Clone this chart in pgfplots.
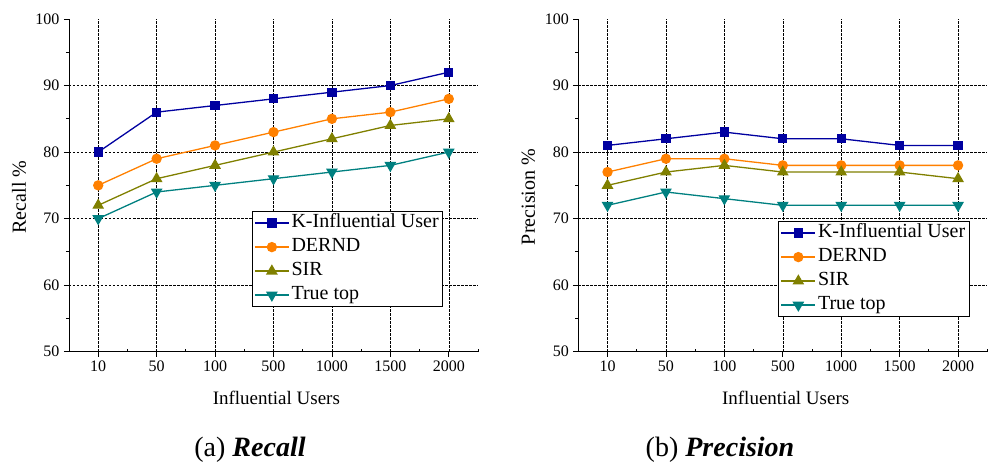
\documentclass[border=0pt]{standalone}
\usepackage{fontspec}
\setmainfont{Liberation Serif}
\usepackage{pgfplots}
\pgfplotsset{compat=1.18}

\definecolor{kblue}{RGB}{0,0,160}
\definecolor{dorange}{RGB}{255,128,0}
\definecolor{solive}{RGB}{128,128,0}
\definecolor{tteal}{RGB}{0,128,128}

\pgfplotsset{
  panel/.style={
    scale only axis, width=409pt, height=332.7pt,
    xmin=-0.5, xmax=6.5, ymin=50, ymax=100,
    axis x line*=bottom, axis y line*=left,
    axis line style={-, line width=0.8pt},
    xtick={0,...,6}, xticklabels={10,50,100,500,1000,1500,2000},
    minor xtick={-0.5,0.5,...,6.5},
    ytick={50,60,...,100}, minor ytick={55,65,...,95},
    xmajorgrids,
    grid style={dash pattern=on 2.5pt off 1.5pt, black, line width=0.5pt},
    extra y ticks={60,70,80,90}, extra y tick labels={},
    extra y tick style={grid=major, major tick length=0pt},
    tick align=outside, major tick length=5pt, minor tick length=3pt,
    tick style={black, line width=0.8pt},
    minor x tick style={yshift=3pt},
    ticklabel style={font=\fontsize{16}{16}\selectfont},
    yticklabel style={xshift=-1pt},
    xticklabel style={yshift=-1pt},
    /pgf/number format/assume math mode=true,
    xlabel={Influential Users},
    xlabel style={font=\fontsize{19}{19}\selectfont, at={(axis description cs:0.507,-0.139)}, anchor=center},
    ylabel style={font=\fontsize{20}{20}\selectfont, at={(axis description cs:-0.122,0.465)}, anchor=center},
    legend cell align=left,
    legend image code/.code={
      \draw[line width=1.3pt, mark repeat=2, mark phase=2] plot coordinates {(0pt,0pt) (17pt,0pt) (34pt,0pt)};
    },
    legend style={anchor=north west, draw=black, line width=0.8pt,
      font=\fontsize{20}{24}\selectfont, inner xsep=2pt, inner ysep=1.5pt,
      row sep=3.5pt,
      nodes={inner xsep=2pt, inner ysep=1.5pt, text height=13.5pt, text depth=4pt}},
  },
  kser/.style={color=kblue, line width=1.3pt, mark=square*, mark size=4pt, mark options={solid, fill=kblue}},
  dser/.style={color=dorange, line width=1.3pt, mark=*, mark size=4.5pt, mark options={solid, fill=dorange}},
  sser/.style={color=solive, line width=1.3pt, mark=triangle*, mark size=5.5pt, mark options={solid, fill=solive}},
  tser/.style={color=tteal, line width=1.3pt, mark=triangle*, mark size=5.5pt, mark options={solid, fill=tteal, rotate=180}},
}

\begin{document}
\begin{tikzpicture}
\useasboundingbox (-69pt,-111.3pt) rectangle (928pt,351.7pt);

% Recall
\begin{axis}[panel, at={(0pt,0pt)}, anchor=south west,
  ylabel={Recall \%},
  legend style={at={(axis description cs:0.447,0.423)}}]
\addplot[kser] coordinates {(0,80) (1,86) (2,87) (3,88) (4,89) (5,90) (6,92)};
\addplot[dser] coordinates {(0,75) (1,79) (2,81) (3,83) (4,85) (5,86) (6,88)};
\addplot[sser] coordinates {(0,72) (1,76) (2,78) (3,80) (4,82) (5,84) (6,85)};
\addplot[tser] coordinates {(0,70) (1,74) (2,75) (3,76) (4,77) (5,78) (6,80)};
\legend{K-Influential User, DERND, SIR, True top}
\end{axis}

% Precision
\begin{axis}[panel, at={(509.3pt,0pt)}, anchor=south west,
  ylabel={Precision \%},
  legend style={at={(axis description cs:0.489,0.393)}}]
\addplot[kser] coordinates {(0,81) (1,82) (2,83) (3,82) (4,82) (5,81) (6,81)};
\addplot[dser] coordinates {(0,77) (1,79) (2,79) (3,78) (4,78) (5,78) (6,78)};
\addplot[sser] coordinates {(0,75) (1,77) (2,78) (3,77) (4,77) (5,77) (6,76)};
\addplot[tser] coordinates {(0,72) (1,74) (2,73) (3,72) (4,72) (5,72) (6,72)};
\legend{K-Influential User, DERND, SIR, True top}
\end{axis}

\node[font=\fontsize{28}{28}\selectfont] at (181pt,-98.3pt) {(a) \textbf{\textit{Recall}}};
\node[font=\fontsize{28}{28}\selectfont] at (651pt,-98.3pt) {(b) \textbf{\textit{Precision}}};
\end{tikzpicture}
\end{document}
